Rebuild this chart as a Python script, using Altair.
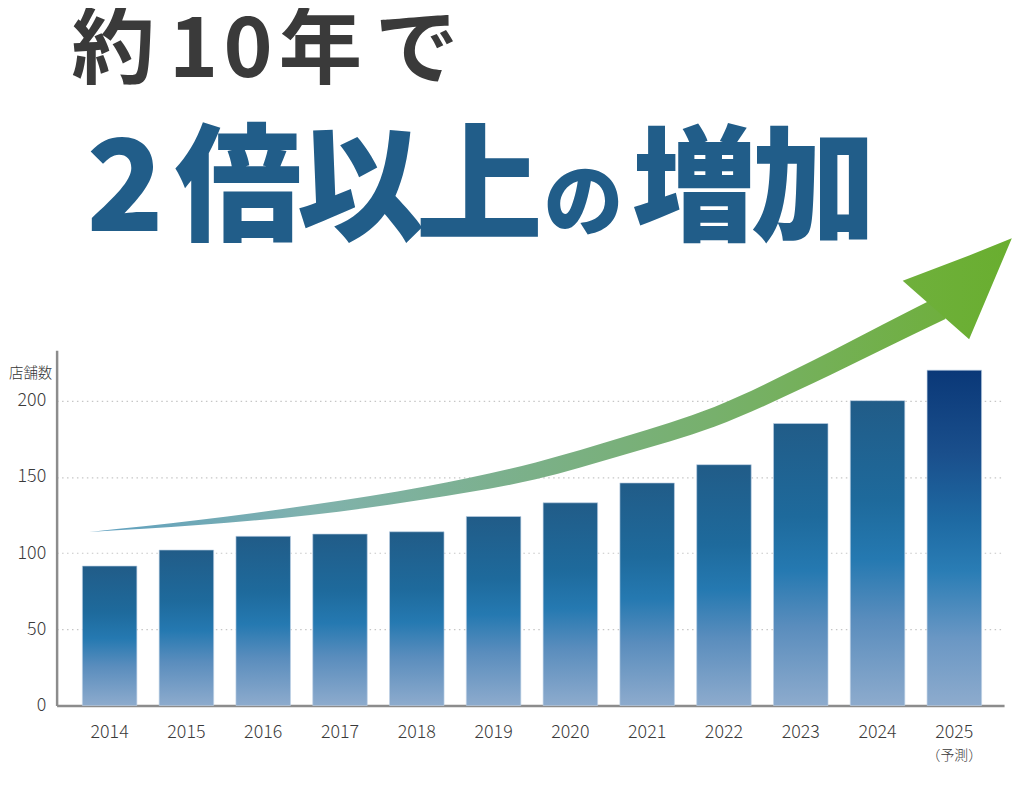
import altair as alt
import pandas as pd

# ---------------- data ----------------
years = ["2014", "2015", "2016", "2017", "2018", "2019",
         "2020", "2021", "2022", "2023", "2024", "2025"]
stores = [91.5, 102, 111, 112.5, 114, 124, 133, 146, 158, 185, 200, 220]
y_ticks = [0, 50, 100, 150, 200]
forecast_year = "2025"
forecast_note = "（予測）"
y_title = "店舗数"

# decorative growth arrow, in data units (year, stores)
arrow_year = [2013.735, 2015.156, 2016.616, 2018.128, 2019.549,
              2020.712, 2021.875, 2023.167, 2024.071, 2024.885]
arrow_top = [113.9, 121.7, 131.5, 143.8, 159.5, 176.4, 195.9, 226.5, 249.9, 270.7]
arrow_bottom = [113.9, 118.4, 125.0, 135.4, 148.4, 164.7, 182.9, 211.5, 233.7, 253.5]
head_year = [2024.329, 2025.194, 2025.750]
head_top = [278.6, 295.2, 306.5]
head_bottom = [278.6, 240.2, 306.5]

W, H = 955, 358
Y_MAX = 233
PAD_L, PAD_T = 49, 342
FONT = "Noto Sans CJK JP"

bars_df = pd.DataFrame({"year": years, "stores": stores})
body_df = pd.DataFrame({"yr": arrow_year, "top": arrow_top, "bottom": arrow_bottom})
head_df = pd.DataFrame({"yr": head_year, "top": head_top, "bottom": head_bottom})
note_df = pd.DataFrame({"year": [forecast_year], "note": [forecast_note]})

x_scale = alt.Scale(domain=years, paddingInner=0.29, paddingOuter=0.314, align=0.534)
y_scale = alt.Scale(domain=[0, Y_MAX], nice=False, zero=True)

bar_grad = alt.LinearGradient(
    gradient="linear", x1=0, x2=0, y1=0, y2=1,
    stops=[alt.GradientStop(offset=0, color="#215c88"),
           alt.GradientStop(offset=0.33, color="#1e6a9c"),
           alt.GradientStop(offset=0.52, color="#2579b1"),
           alt.GradientStop(offset=0.72, color="#5a8dbd"),
           alt.GradientStop(offset=1, color="#8dabcd")])
bar_grad_2025 = alt.LinearGradient(
    gradient="linear", x1=0, x2=0, y1=0, y2=1,
    stops=[alt.GradientStop(offset=0, color="#0a3878"),
           alt.GradientStop(offset=0.25, color="#1a4f8c"),
           alt.GradientStop(offset=0.45, color="#1e6aa3"),
           alt.GradientStop(offset=0.6, color="#2a7db5"),
           alt.GradientStop(offset=0.8, color="#6a97c4"),
           alt.GradientStop(offset=1, color="#8dabcd")])
arrow_grad = alt.LinearGradient(
    gradient="linear", x1=0, x2=1, y1=0, y2=0,
    stops=[alt.GradientStop(offset=0, color="#5e9fc0"),
           alt.GradientStop(offset=0.26, color="#80b2ad"),
           alt.GradientStop(offset=0.52, color="#7bb088"),
           alt.GradientStop(offset=0.73, color="#77b06c"),
           alt.GradientStop(offset=0.86, color="#74b056"),
           alt.GradientStop(offset=1, color="#6faf3e")])
head_grad = alt.LinearGradient(
    gradient="linear", x1=0, x2=1, y1=0, y2=0,
    stops=[alt.GradientStop(offset=0, color="#6fb03c"),
           alt.GradientStop(offset=1, color="#69ae2f")])

x_enc = alt.X("year:N", scale=x_scale,
              axis=alt.Axis(title=None, labelAngle=0, labelFontSize=18, labelFont=FONT,
                            labelFontWeight=300, labelColor="#3a3a3a", labelPadding=18,
                            ticks=False, domainColor="#8c8c8c", domainWidth=2.5))
y_enc = alt.Y("stores:Q", scale=y_scale,
              axis=alt.Axis(values=y_ticks, title=y_title, titleAngle=0, titleAlign="right",
                            titleBaseline="middle", titleX=-5, titleY=23, titleFontSize=14.5,
                            titleFontWeight=300, titleFont=FONT, titleColor="#333333",
                            labelFontSize=18, labelFont=FONT, labelFontWeight=300,
                            labelColor="#3a3a3a", labelPadding=11, ticks=False, grid=True,
                            gridDash=[1.5, 3.5], gridColor="#c6c6c6", gridWidth=1.2,
                            domainColor="#8c8c8c", domainWidth=2.5))

bars = alt.Chart(bars_df).transform_filter(f"datum.year != '{forecast_year}'").mark_bar(
    fill=bar_grad, stroke="#bcd0e4", strokeWidth=0.8, strokeOpacity=0.8
).encode(x=x_enc, y=y_enc)

bar_last = alt.Chart(bars_df).transform_filter(f"datum.year == '{forecast_year}'").mark_bar(
    fill=bar_grad_2025, stroke="#bcd0e4", strokeWidth=0.8, strokeOpacity=0.8
).encode(x=x_enc, y=y_enc)

note = alt.Chart(note_df).mark_text(fontSize=14, font=FONT, fontWeight=300, color="#3a3a3a",
                                     baseline="middle").encode(
    x=alt.X("year:N", scale=x_scale), y=alt.value(H + 51), text="note:N")

bar_layer = alt.layer(bars, bar_last, note)

ax_year = alt.X("yr:Q", scale=alt.Scale(domain=[2013.310, 2025.649], nice=False, zero=False),
                axis=None)

body = alt.Chart(body_df).mark_area(fill=arrow_grad, interpolate="monotone").encode(
    x=ax_year,
    y=alt.Y("top:Q", scale=y_scale, axis=None),
    y2="bottom:Q")

head = alt.Chart(head_df).mark_area(fill=head_grad, interpolate="linear").encode(
    x=ax_year,
    y=alt.Y("top:Q", scale=y_scale, axis=None),
    y2="bottom:Q")

one = alt.Data(values=[{}])


def glyph(ch, cx, base, size, color, weight):
    return alt.Chart(one).mark_text(
        text=ch, fontSize=size, font=FONT, fontWeight=weight, color=color,
        align="center", baseline="alphabetic"
    ).encode(x=alt.value(cx - 57), y=alt.value(base - 350))


title_layers = []
line1 = [("約", 114, 84), ("1", 195, 84), ("0", 250, 84), ("年", 323, 84), ("で", 420, 84)]
for ch, cx, sz in line1:
    title_layers.append(glyph(ch, cx, 74, sz, "#3a3a3a", "bold"))
line2 = [("2", 126, 230, 128), ("倍", 240, 230, 128), ("以", 363, 230, 128),
         ("上", 483, 230, 128), ("の", 588, 228, 80), ("増", 700, 230, 126),
         ("加", 820, 230, 126)]
for ch, cx, base, sz in line2:
    title_layers.append(glyph(ch, cx, base, sz, "#215d89", 900))

chart = alt.layer(bar_layer, body, head, *title_layers).resolve_scale(
    x="independent", y="independent"
).properties(
    width=W, height=H,
    autosize=alt.AutoSizeParams(type="none"),
    padding={"left": PAD_L, "top": PAD_T, "right": 8, "bottom": 70},
    background="white",
).configure_view(stroke=None)

chart.save("out.html", embed_options={"renderer": "svg", "actions": False})
